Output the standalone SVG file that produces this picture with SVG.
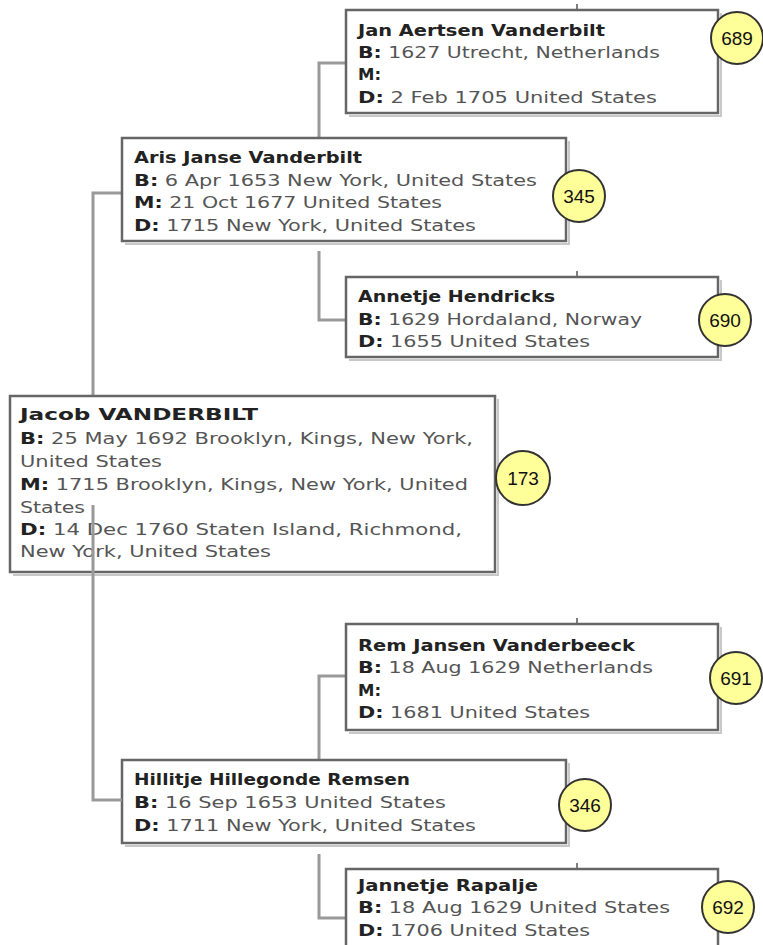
<svg xmlns="http://www.w3.org/2000/svg" width="763" height="945" viewBox="0 0 763 945">
<style>
.box{fill:#fff;stroke:#666;stroke-width:2.5}
.shadow{fill:none;stroke:#c8c8c8;stroke-width:2}
.conn{fill:none;stroke:#999;stroke-width:3}
.tick{fill:none;stroke:#555;stroke-width:1.5}
.name{font-family:"DejaVu Sans",Verdana,sans-serif;font-size:16.5px;font-weight:bold;fill:#222}
.txt{font-family:"DejaVu Sans",Verdana,sans-serif;font-size:16.5px;fill:#555}
.lbl{font-weight:bold;fill:#222}
.badge{fill:#ffff99;stroke:#333;stroke-width:2}
.num{font-family:"Liberation Sans",Arial,sans-serif;font-size:19px;fill:#111;text-anchor:middle}
</style>
<rect width="763" height="945" fill="#fff"/>
<g id="connectors-back">
<path class="conn" d="M346,63 H319 V137"/>
<path class="conn" d="M122,193 H93 V396"/>
<path class="conn" d="M319,251 V320 H346"/>
<path class="conn" d="M346,676 H319 V760"/>
<path class="conn" d="M319,854 V918 H346"/>
<path class="tick" d="M577,4 V10 M577,271 V277 M577,618 V624 M577,863 V869"/>
</g>
<g id="n689">
<path class="shadow" d="M349,116 H721 V13"/>
<rect class="box" x="346" y="10" width="372" height="103"/>
<text class="name" x="358" y="36" textLength="247" lengthAdjust="spacingAndGlyphs">Jan Aertsen Vanderbilt</text>
<text class="txt" x="358" y="58" textLength="302" lengthAdjust="spacingAndGlyphs"><tspan class="lbl">B:</tspan> 1627 Utrecht, Netherlands</text>
<text class="txt" x="358" y="80"><tspan class="lbl">M:</tspan></text>
<text class="txt" x="358" y="103" textLength="299" lengthAdjust="spacingAndGlyphs"><tspan class="lbl">D:</tspan> 2 Feb 1705 United States</text>
<circle class="badge" cx="737" cy="38" r="26"/>
<text class="num" x="737" y="45">689</text>
</g>
<g id="n345">
<path class="shadow" d="M125,244 H569 V141"/>
<rect class="box" x="122" y="138" width="444" height="103"/>
<text class="name" x="134" y="163" textLength="228" lengthAdjust="spacingAndGlyphs">Aris Janse Vanderbilt</text>
<text class="txt" x="134" y="186" textLength="403" lengthAdjust="spacingAndGlyphs"><tspan class="lbl">B:</tspan> 6 Apr 1653 New York, United States</text>
<text class="txt" x="134" y="208" textLength="308" lengthAdjust="spacingAndGlyphs"><tspan class="lbl">M:</tspan> 21 Oct 1677 United States</text>
<text class="txt" x="134" y="231" textLength="342" lengthAdjust="spacingAndGlyphs"><tspan class="lbl">D:</tspan> 1715 New York, United States</text>
<circle class="badge" cx="579" cy="196" r="26"/>
<text class="num" x="579" y="203">345</text>
</g>
<g id="n690">
<path class="shadow" d="M349,360 H721 V280"/>
<rect class="box" x="346" y="277" width="372" height="80"/>
<text class="name" x="358" y="302" textLength="197" lengthAdjust="spacingAndGlyphs">Annetje Hendricks</text>
<text class="txt" x="358" y="325" textLength="284" lengthAdjust="spacingAndGlyphs"><tspan class="lbl">B:</tspan> 1629 Hordaland, Norway</text>
<text class="txt" x="358" y="347" textLength="232" lengthAdjust="spacingAndGlyphs"><tspan class="lbl">D:</tspan> 1655 United States</text>
<circle class="badge" cx="725" cy="320" r="26"/>
<text class="num" x="725" y="327">690</text>
</g>
<g id="n173">
<path class="shadow" d="M13,575 H498 V399"/>
<rect class="box" x="10" y="396" width="485" height="176"/>
<text class="name" x="20" y="420" textLength="238" lengthAdjust="spacingAndGlyphs">Jacob VANDERBILT</text>
<text class="txt" x="20" y="444" textLength="453" lengthAdjust="spacingAndGlyphs"><tspan class="lbl">B:</tspan> 25 May 1692 Brooklyn, Kings, New York,</text>
<text class="txt" x="20" y="467" textLength="142" lengthAdjust="spacingAndGlyphs">United States</text>
<text class="txt" x="20" y="490" textLength="448" lengthAdjust="spacingAndGlyphs"><tspan class="lbl">M:</tspan> 1715 Brooklyn, Kings, New York, United</text>
<text class="txt" x="20" y="513" textLength="65" lengthAdjust="spacingAndGlyphs">States</text>
<text class="txt" x="20" y="535" textLength="442" lengthAdjust="spacingAndGlyphs"><tspan class="lbl">D:</tspan> 14 Dec 1760 Staten Island, Richmond,</text>
<text class="txt" x="20" y="557" textLength="251" lengthAdjust="spacingAndGlyphs">New York, United States</text>
<circle class="badge" cx="523" cy="478" r="27"/>
<text class="num" x="523" y="485">173</text>
</g>
<g id="n691">
<path class="shadow" d="M349,733 H721 V627"/>
<rect class="box" x="346" y="624" width="372" height="106"/>
<text class="name" x="358" y="651" textLength="277" lengthAdjust="spacingAndGlyphs">Rem Jansen Vanderbeeck</text>
<text class="txt" x="358" y="673" textLength="295" lengthAdjust="spacingAndGlyphs"><tspan class="lbl">B:</tspan> 18 Aug 1629 Netherlands</text>
<text class="txt" x="358" y="696"><tspan class="lbl">M:</tspan></text>
<text class="txt" x="358" y="718" textLength="232" lengthAdjust="spacingAndGlyphs"><tspan class="lbl">D:</tspan> 1681 United States</text>
<circle class="badge" cx="736" cy="678" r="26"/>
<text class="num" x="736" y="685">691</text>
</g>
<g id="n346">
<path class="shadow" d="M125,846 H569 V763"/>
<rect class="box" x="122" y="760" width="444" height="83"/>
<text class="name" x="134" y="785" textLength="276" lengthAdjust="spacingAndGlyphs">Hillitje Hillegonde Remsen</text>
<text class="txt" x="134" y="808" textLength="312" lengthAdjust="spacingAndGlyphs"><tspan class="lbl">B:</tspan> 16 Sep 1653 United States</text>
<text class="txt" x="134" y="831" textLength="342" lengthAdjust="spacingAndGlyphs"><tspan class="lbl">D:</tspan> 1711 New York, United States</text>
<circle class="badge" cx="585" cy="805" r="26"/>
<text class="num" x="585" y="812">346</text>
</g>
<g id="n692">
<rect class="box" x="346" y="869" width="372" height="90"/>
<text class="name" x="358" y="891" textLength="180" lengthAdjust="spacingAndGlyphs">Jannetje Rapalje</text>
<text class="txt" x="358" y="913" textLength="312" lengthAdjust="spacingAndGlyphs"><tspan class="lbl">B:</tspan> 18 Aug 1629 United States</text>
<text class="txt" x="358" y="936" textLength="232" lengthAdjust="spacingAndGlyphs"><tspan class="lbl">D:</tspan> 1706 United States</text>
<circle class="badge" cx="728" cy="907" r="26"/>
<text class="num" x="728" y="914">692</text>
</g>
<g id="connectors-front">
<path class="conn" d="M93,505 V800 H122"/>
</g>
</svg>
